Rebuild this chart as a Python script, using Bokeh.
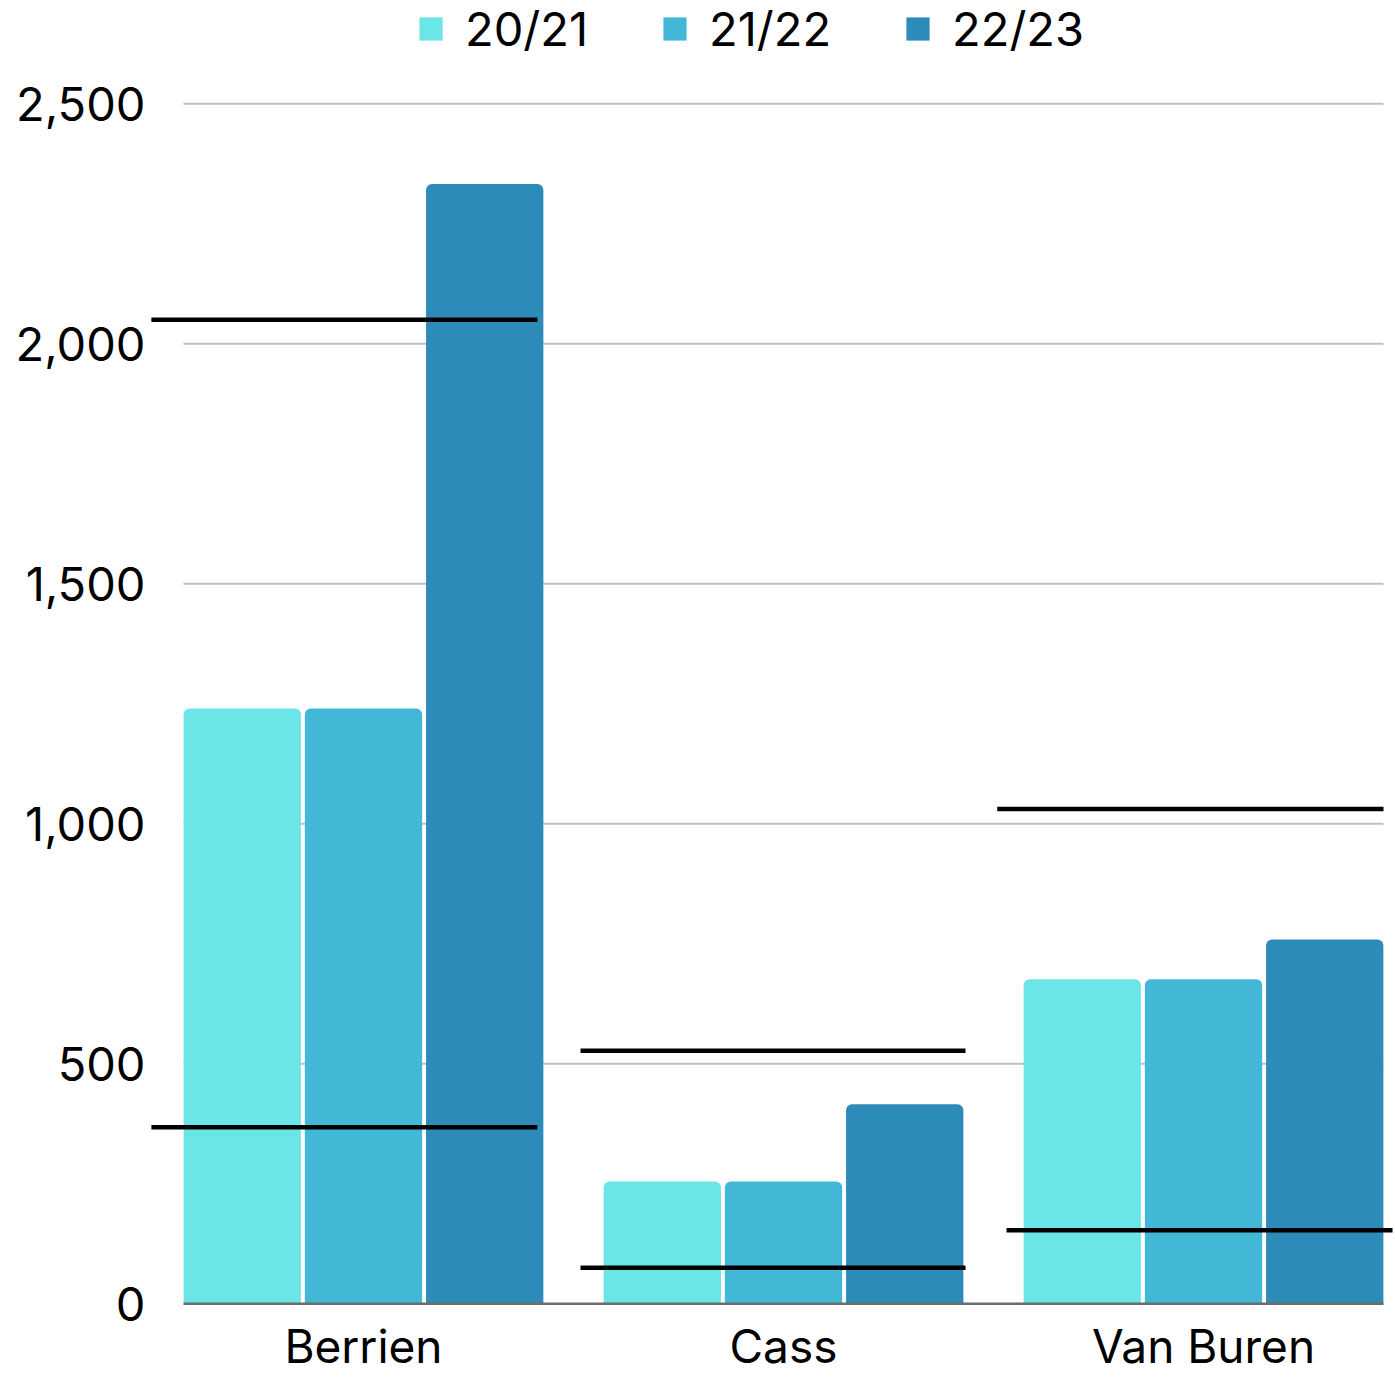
from bokeh.plotting import figure
from bokeh.models import (ColumnDataSource, FixedTicker, NumeralTickFormatter,
                          Legend, LegendItem, Range1d)
from bokeh.embed import file_html
from bokeh.resources import INLINE

# ---- data ----
counties = ["Berrien", "Cass", "Van Buren"]
years = ["20/21", "21/22", "22/23"]
v_20_21 = [1240, 255, 676]
v_21_22 = [1240, 255, 676]
v_22_23 = [2333, 416, 759]
upper_marks = [2050, 527, 1031]
lower_marks = [368, 75, 153]
y_ticks = [0, 500, 1000, 1500, 2000, 2500]

# ---- styles ----
FONT = "Inter"
colors = ["#6ce5e8", "#42b7d6", "#2d8bba"]
bar_offsets = [-0.2886, 0.0, 0.2886]
bar_width = 0.2793
upper_left = [-0.505, -0.4833, -0.4912]
upper_right = [0.414, 0.4333, 0.4286]
lower_left = [-0.505, -0.4833, -0.469]
lower_right = [0.414, 0.4333, 0.45]
grid_x0, grid_x1 = -0.4286, 2.4286

idx = list(range(len(counties)))

p = figure(width=1395, height=1377, output_backend="svg", toolbar_location=None,
           x_range=Range1d(-0.5071, 2.4571), y_range=Range1d(-5.6, 2715.2),
           min_border_left=150, min_border_right=0, min_border_top=0,
           min_border_bottom=71)
p.outline_line_color = None
p.xgrid.visible = False
p.ygrid.visible = False

# gridlines
grid_src = ColumnDataSource(dict(y=y_ticks[1:]))
p.segment(x0=grid_x0, x1=grid_x1, y0="y", y1="y", source=grid_src,
          line_color="#c0c0c0", line_width=2)

series = [v_20_21, v_21_22, v_22_23]
renderers = []
for k, vals in enumerate(series):
    src = ColumnDataSource(dict(x=[i + bar_offsets[k] for i in idx], top=vals))
    r = p.vbar(x="x", top="top", bottom=0, width=bar_width, source=src,
               fill_color=colors[k], line_color=None, border_radius=(6, 6, 0, 0))
    renderers.append(r)

# baseline
p.segment(x0=grid_x0, x1=grid_x1, y0=y_ticks[0], y1=y_ticks[0],
          line_color="#6d6d6d", line_width=2.5)

# black marker lines
up_src = ColumnDataSource(dict(x0=[i + a for i, a in zip(idx, upper_left)],
                               x1=[i + b for i, b in zip(idx, upper_right)],
                               y=upper_marks))
lo_src = ColumnDataSource(dict(x0=[i + a for i, a in zip(idx, lower_left)],
                               x1=[i + b for i, b in zip(idx, lower_right)],
                               y=lower_marks))
for s in (up_src, lo_src):
    p.segment(x0="x0", x1="x1", y0="y", y1="y", source=s,
              line_color="black", line_width=4.5)

# axes
p.yaxis.ticker = FixedTicker(ticks=y_ticks)
p.yaxis.formatter = NumeralTickFormatter(format="0,0")
p.yaxis.axis_line_color = None
p.yaxis.major_tick_line_color = None
p.yaxis.minor_tick_line_color = None
p.yaxis.major_tick_out = 0
p.yaxis.major_tick_in = 0
p.yaxis.major_label_text_font = FONT
p.yaxis.major_label_text_font_size = "47px"
p.yaxis.major_label_text_color = "black"
p.yaxis.major_label_standoff = 5

p.xaxis.ticker = FixedTicker(ticks=idx)
p.xaxis.major_label_overrides = {i: c for i, c in zip(idx, counties)}
p.xaxis.axis_line_color = None
p.xaxis.major_tick_line_color = None
p.xaxis.minor_tick_line_color = None
p.xaxis.major_tick_out = 0
p.xaxis.major_tick_in = 0
p.xaxis.major_label_text_font = FONT
p.xaxis.major_label_text_font_size = "46px"
p.xaxis.major_label_text_color = "black"
p.xaxis.major_label_standoff = 11

legend = Legend(items=[LegendItem(label=years[k], renderers=[renderers[k]]) for k in range(3)],
                orientation="horizontal", location=(266, 1249),
                glyph_width=29, glyph_height=29, label_standoff=20, spacing=72,
                padding=0, margin=0, border_line_color=None, background_fill_alpha=0,
                label_text_font=FONT, label_text_font_size="47px",
                label_text_color="black")
p.add_layout(legend)

open("out.html", "w").write(file_html(p, INLINE))
